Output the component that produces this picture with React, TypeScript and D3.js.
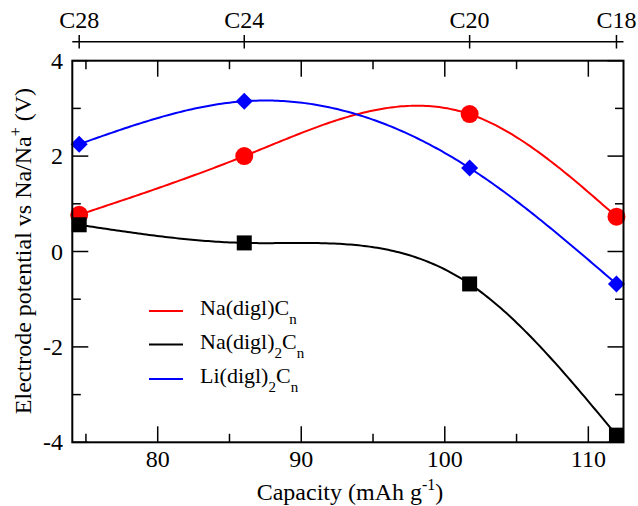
import React from "react";
import * as d3 from "d3";

const capacities = [74.53, 86.03, 101.73, 111.96];
const topLabels = ["C28", "C24", "C20", "C18"];
const naDiglCn = [0.77, 2.0, 2.88, 0.73];
const naDigl2Cn = [0.56, 0.18, -0.68, -3.85];
const liDigl2Cn = [2.25, 3.15, 1.75, -0.68];
const xTicks = [80, 90, 100, 110];
const xMinor = [75, 85, 95, 105];
const yTicks = [-4, -2, 0, 2, 4];
const yMinor = [-3, -1, 1, 3];

const W = 638, H = 506;
const L = 72.3, R = 623.5, T = 60.7, B = 442.3;
const FONT = "\"Liberation Serif\", \"Times New Roman\", Times, serif";
const TS: React.CSSProperties = { fontFamily: FONT };

function naturalSpline(xs: number[], ys: number[]) {
  const n = xs.length;
  const h: number[] = [];
  for (let i = 0; i < n - 1; i++) h.push(xs[i + 1] - xs[i]);
  const a: number[] = new Array(n).fill(0);
  const b: number[] = new Array(n).fill(0);
  const c: number[] = new Array(n).fill(0);
  const r: number[] = new Array(n).fill(0);
  b[0] = 1; b[n - 1] = 1;
  for (let i = 1; i < n - 1; i++) {
    a[i] = h[i - 1];
    b[i] = 2 * (h[i - 1] + h[i]);
    c[i] = h[i];
    r[i] = 6 * ((ys[i + 1] - ys[i]) / h[i] - (ys[i] - ys[i - 1]) / h[i - 1]);
  }
  const cp: number[] = new Array(n).fill(0);
  const dp: number[] = new Array(n).fill(0);
  cp[0] = c[0] / b[0]; dp[0] = r[0] / b[0];
  for (let i = 1; i < n; i++) {
    const m = b[i] - a[i] * cp[i - 1];
    cp[i] = c[i] / m;
    dp[i] = (r[i] - a[i] * dp[i - 1]) / m;
  }
  const M: number[] = new Array(n).fill(0);
  M[n - 1] = dp[n - 1];
  for (let i = n - 2; i >= 0; i--) M[i] = dp[i] - cp[i] * M[i + 1];
  return (x: number) => {
    let i = 0;
    while (i < n - 2 && x > xs[i + 1]) i++;
    const hi = h[i];
    const t1 = xs[i + 1] - x, t0 = x - xs[i];
    return (
      (M[i] * t1 * t1 * t1) / (6 * hi) +
      (M[i + 1] * t0 * t0 * t0) / (6 * hi) +
      (ys[i] / hi - (M[i] * hi) / 6) * t1 +
      (ys[i + 1] / hi - (M[i + 1] * hi) / 6) * t0
    );
  };
}

export default function App() {
  const x = d3.scaleLinear().domain([74.05, 112.45]).range([L, R]);
  const y = d3.scaleLinear().domain([-4, 4]).range([B, T]);
  const series = [
    { name: "red", color: "#ff0000", values: naDiglCn, marker: "circle" },
    { name: "blue", color: "#0000ff", values: liDigl2Cn, marker: "diamond" },
    { name: "black", color: "#000000", values: naDigl2Cn, marker: "square" },
  ];
  const line = d3.line<[number, number]>().x((d) => x(d[0])).y((d) => y(d[1]));
  const curvePath = (vals: number[]) => {
    const f = naturalSpline(capacities, vals);
    const pts: [number, number][] = [];
    const x0 = capacities[0], x1 = capacities[capacities.length - 1];
    const N = 200;
    for (let k = 0; k <= N; k++) {
      const xv = x0 + ((x1 - x0) * k) / N;
      pts.push([xv, f(xv)]);
    }
    return line(pts) || "";
  };
  const MAJ = 16, MIN = 8.5;
  const legend = [
    { color: "#ff0000", y: 311, main: "Na(digl)", sub2: false },
    { color: "#000000", y: 344.5, main: "Na(digl)", sub2: true },
    { color: "#0000ff", y: 379, main: "Li(digl)", sub2: true },
  ];
  return (
    <svg width={W} height={H} style={{ position: "absolute", left: 0, top: 0, background: "#fff", fontFamily: FONT }}>
      <rect x={0} y={0} width={W} height={H} fill="#fff" />
      {series.map((s) => (
        <path key={s.name} d={curvePath(s.values)} fill="none" stroke={s.color} strokeWidth={2} />
      ))}
      {series.map((s) =>
        s.values.map((v, i) => {
          const cx = x(capacities[i]), cy = y(v);
          if (s.marker === "circle") return <circle key={s.name + i} cx={cx} cy={cy} r={9} fill={s.color} />;
          if (s.marker === "diamond")
            return <path key={s.name + i} d={`M${cx},${cy - 8.5}L${cx + 8.5},${cy}L${cx},${cy + 8.5}L${cx - 8.5},${cy}Z`} fill={s.color} />;
          return <rect key={s.name + i} x={cx - 7.5} y={cy - 7.5} width={15} height={15} fill={s.color} />;
        })
      )}
      <rect x={L} y={T} width={R - L} height={B - T} fill="none" stroke="#000" strokeWidth={2} />
      {xTicks.map((t) => (
        <g key={"xt" + t}>
          <line x1={x(t)} x2={x(t)} y1={B} y2={B - MAJ} stroke="#000" strokeWidth={1.5} />
          <line x1={x(t)} x2={x(t)} y1={T} y2={T + MAJ} stroke="#000" strokeWidth={1.5} />
          <text style={TS} x={x(t)} y={467} textAnchor="middle" fontSize={24}>{t}</text>
        </g>
      ))}
      {xMinor.map((t) => (
        <g key={"xm" + t}>
          <line x1={x(t)} x2={x(t)} y1={B} y2={B - MIN} stroke="#000" strokeWidth={1.5} />
          <line x1={x(t)} x2={x(t)} y1={T} y2={T + MIN} stroke="#000" strokeWidth={1.5} />
        </g>
      ))}
      {yTicks.map((t) => (
        <g key={"yt" + t}>
          <line x1={L} x2={L + MAJ} y1={y(t)} y2={y(t)} stroke="#000" strokeWidth={1.5} />
          <line x1={R} x2={R - MAJ} y1={y(t)} y2={y(t)} stroke="#000" strokeWidth={1.5} />
          <text style={TS} x={63} y={y(t) + 8} textAnchor="end" fontSize={24}>{t}</text>
        </g>
      ))}
      {yMinor.map((t) => (
        <g key={"ym" + t}>
          <line x1={L} x2={L + MIN} y1={y(t)} y2={y(t)} stroke="#000" strokeWidth={1.5} />
          <line x1={R} x2={R - MIN} y1={y(t)} y2={y(t)} stroke="#000" strokeWidth={1.5} />
        </g>
      ))}
      <line x1={L} x2={R} y1={41.7} y2={41.7} stroke="#000" strokeWidth={1.5} />
      {capacities.map((c, i) => (
        <g key={"c" + i}>
          <line x1={x(c)} x2={x(c)} y1={35} y2={48.5} stroke="#000" strokeWidth={1.5} />
          <text style={TS} x={x(c)} y={28} textAnchor="middle" fontSize={24}>{topLabels[i]}</text>
        </g>
      ))}
      <text style={TS} x={350} y={500} textAnchor="middle" fontSize={24}>
        Capacity (mAh g<tspan fontSize={16} dy={-10}>-1</tspan><tspan dy={10}>)</tspan>
      </text>
      <text style={TS} transform={`translate(31,251) rotate(-90)`} textAnchor="middle" fontSize={24}>
        Electrode potential vs Na/Na<tspan fontSize={16} dy={-10}>+</tspan><tspan dy={10}> (V)</tspan>
      </text>
      {legend.map((l, i) => (
        <g key={"lg" + i}>
          <line x1={149} x2={183} y1={l.y} y2={l.y} stroke={l.color} strokeWidth={2} />
          <text style={TS} x={200} y={l.y + 4} fontSize={22}>
            {l.main}
            {l.sub2 ? <tspan fontSize={15} dy={9}>2</tspan> : null}
            <tspan dy={l.sub2 ? -9 : 0}>C</tspan>
            <tspan fontSize={15} dy={9}>n</tspan>
          </text>
        </g>
      ))}
    </svg>
  );
}
